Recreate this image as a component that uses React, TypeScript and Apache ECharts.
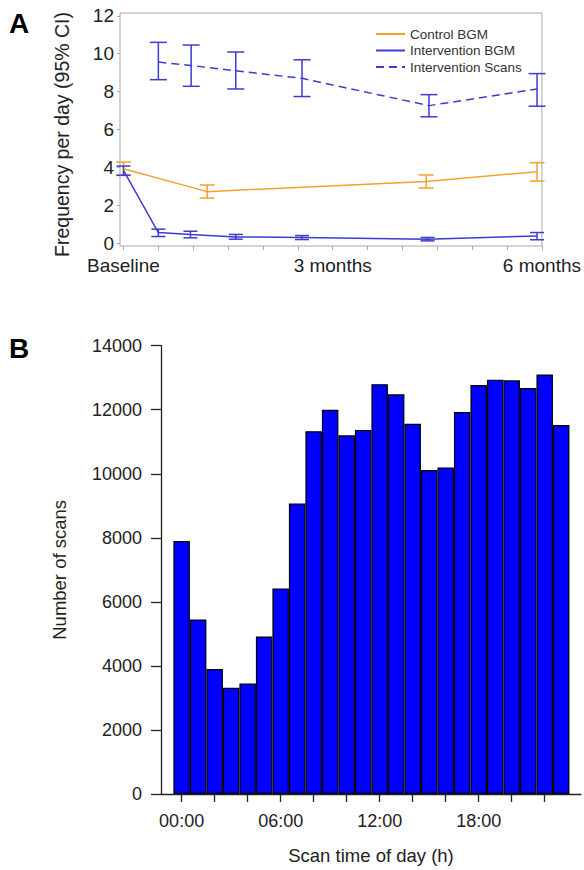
import React, { useEffect, useRef } from "react";
import * as echarts from "echarts";

// ---------- Panel A data (months from baseline) ----------
const controlX = [0, 1.2, 4.34, 5.93];
const controlMean = [3.93, 2.72, 3.26, 3.77];
const controlLow = [3.6, 2.38, 2.91, 3.28];
const controlHigh = [4.28, 3.07, 3.6, 4.25];

const interventionX = [0, 0.5, 0.96, 1.61, 2.56, 4.36, 5.93];
const interventionMean = [3.84, 0.56, 0.46, 0.33, 0.3, 0.21, 0.38];
const interventionLow = [3.58, 0.35, 0.28, 0.21, 0.19, 0.12, 0.18];
const interventionHigh = [4.07, 0.74, 0.63, 0.46, 0.4, 0.3, 0.56];

const scansX = [0.5, 0.97, 1.61, 2.56, 4.38, 5.93];
const scansMean = [9.56, 9.38, 9.1, 8.7, 7.26, 8.14];
const scansLow = [8.63, 8.28, 8.14, 7.74, 6.67, 7.23];
const scansHigh = [10.6, 10.46, 10.09, 9.68, 7.84, 8.95];

const panelATicks = [0, 0.5, 1, 1.5, 2, 2.5, 3, 3.5, 4, 4.5, 5, 5.5, 6];
const panelALabelValues = [0, 3, 6];
const panelALabelTexts = ["Baseline", "3 months", "6 months"];
const panelAYTicks = [0, 2, 4, 6, 8, 10, 12];

// ---------- Panel B data ----------
const hours = [0, 1, 2, 3, 4, 5, 6, 7, 8, 9, 10, 11, 12, 13, 14, 15, 16, 17, 18, 19, 20, 21, 22, 23];
const scanCounts = [
  7900, 5450, 3900, 3320, 3450, 4920, 6420, 9070, 11330, 12000, 11200, 11370,
  12800, 12480, 11560, 10120, 10200, 11930, 12770, 12940, 12920, 12680, 13100, 11520,
];
const hourTicks = [0, 2, 4, 6, 8, 10, 12, 14, 16, 18, 20, 22];
const hourLabels = [0, 6, 12, 18];

const ORANGE = "#f2a22c";
const BLUE = "#3c3cd2";
const FONT = "Liberation Sans, Arial, sans-serif";
const TEXT = "#222";

function zip3(x: number[], a: number[], b: number[]) {
  return x.map((v, i) => [v, a[i], b[i]]);
}
function zip2(x: number[], a: number[]) {
  return x.map((v, i) => [v, a[i]]);
}

function errorBars(name: string, data: number[][], color: string, cap: number) {
  return {
    type: "custom",
    name,
    xAxisIndex: 0,
    yAxisIndex: 0,
    data,
    encode: { x: 0, y: [1, 2] },
    z: 3,
    renderItem: (params: any, api: any) => {
      const x = api.value(0);
      const lo = api.coord([x, api.value(1)]);
      const hi = api.coord([x, api.value(2)]);
      const style = { stroke: color, lineWidth: 1.5 };
      const h = cap / 2;
      return {
        type: "group",
        children: [
          { type: "line", shape: { x1: lo[0], y1: lo[1], x2: hi[0], y2: hi[1] }, style },
          { type: "line", shape: { x1: hi[0] - h, y1: hi[1], x2: hi[0] + h, y2: hi[1] }, style },
          { type: "line", shape: { x1: lo[0] - h, y1: lo[1], x2: lo[0] + h, y2: lo[1] }, style },
        ],
      };
    },
  };
}

export default function App() {
  const ref = useRef<HTMLDivElement>(null);
  useEffect(() => {
    if (!ref.current) return;
    const chart = echarts.init(ref.current, undefined, { renderer: "svg" });
    const option: any = {
      animation: false,
      backgroundColor: "#fff",
      textStyle: { fontFamily: FONT },
      title: [
        { text: "A", left: 9, top: 9, padding: 0, textStyle: { fontSize: 28, fontWeight: "bold", color: "#000", fontFamily: FONT } },
        { text: "B", left: 9, top: 334, padding: 0, textStyle: { fontSize: 28, fontWeight: "bold", color: "#000", fontFamily: FONT } },
      ],
      legend: {
        data: ["Control BGM", "Intervention BGM", "Intervention Scans"],
        orient: "vertical",
        left: 375,
        top: 27,
        padding: 0,
        itemWidth: 29,
        itemHeight: 14,
        itemGap: 2.5,
        itemStyle: { opacity: 0 },
        textStyle: { fontSize: 13.5, color: "#333", fontFamily: FONT, lineHeight: 14 },
      },
      grid: [
        { left: 120, top: 13, width: 423, height: 233, show: true, borderColor: "#a8a8a8", borderWidth: 1, backgroundColor: "transparent" },
        { left: 161, top: 345.7, width: 420, height: 449.3 },
      ],
      xAxis: [
        {
          type: "value",
          gridIndex: 0,
          min: -0.05,
          max: 6,
          axisLine: { show: false, onZero: false },
          splitLine: { show: false },
          axisTick: { show: true, customValues: panelATicks, length: 4, lineStyle: { color: "#a8a8a8" } },
          axisLabel: {
            customValues: panelALabelValues,
            margin: 10,
            fontSize: 19,
            color: TEXT,
            fontFamily: FONT,
            formatter: (v: number) => panelALabelTexts[panelALabelValues.indexOf(v)] ?? "",
          },
        },
        {
          type: "value",
          gridIndex: 1,
          min: -1.25,
          max: 24.2,
          name: "Scan time of day (h)",
          nameLocation: "middle",
          nameGap: 52,
          nameTextStyle: { fontSize: 18.5, color: TEXT, fontFamily: FONT },
          axisLine: { show: true, onZero: false, lineStyle: { color: "#222", width: 1.3 } },
          splitLine: { show: false },
          axisTick: { show: true, customValues: hourTicks, length: 8, lineStyle: { color: "#222", width: 1.3 } },
          axisLabel: {
            customValues: hourLabels,
            margin: 18,
            fontSize: 18,
            color: TEXT,
            fontFamily: FONT,
            formatter: (v: number) => (v < 10 ? "0" + v : "" + v) + ":00",
          },
        },
      ],
      yAxis: [
        {
          type: "value",
          gridIndex: 0,
          min: -0.15,
          max: 12.15,
          name: "Frequency per day (95% CI)",
          nameLocation: "middle",
          nameGap: 48,
          nameTextStyle: { fontSize: 19.5, color: TEXT, fontFamily: FONT, padding: [0, 10, 0, 0] },
          axisLine: { show: false, onZero: false },
          splitLine: { show: false },
          axisTick: { show: true, customValues: panelAYTicks, length: 3, lineStyle: { color: "#a8a8a8" } },
          axisLabel: { customValues: panelAYTicks, margin: 6, fontSize: 19, color: TEXT, fontFamily: FONT },
        },
        {
          type: "value",
          gridIndex: 1,
          min: 0,
          max: 14000,
          interval: 2000,
          name: "Number of scans",
          nameLocation: "middle",
          nameGap: 92,
          nameTextStyle: { fontSize: 18.5, color: TEXT, fontFamily: FONT },
          axisLine: { show: true, onZero: false, lineStyle: { color: "#222", width: 1.3 } },
          splitLine: { show: false },
          axisTick: { show: true, length: 10, lineStyle: { color: "#222", width: 1.3 } },
          axisLabel: { margin: 19, fontSize: 18, color: TEXT, fontFamily: FONT, formatter: (v: number) => String(v) },
        },
      ],
      series: [
        {
          type: "line",
          name: "Control BGM",
          xAxisIndex: 0,
          yAxisIndex: 0,
          data: zip2(controlX, controlMean),
          symbol: "none",
          lineStyle: { color: ORANGE, width: 1.5 },
          itemStyle: { color: ORANGE },
          z: 4,
        },
        {
          type: "line",
          name: "Intervention BGM",
          xAxisIndex: 0,
          yAxisIndex: 0,
          data: zip2(interventionX, interventionMean),
          symbol: "none",
          lineStyle: { color: BLUE, width: 1.5 },
          itemStyle: { color: BLUE },
          z: 4,
        },
        {
          type: "line",
          name: "Intervention Scans",
          xAxisIndex: 0,
          yAxisIndex: 0,
          data: zip2(scansX, scansMean),
          symbol: "none",
          lineStyle: { color: BLUE, width: 1.5, type: [8, 5] },
          itemStyle: { color: BLUE },
          z: 4,
        },
        errorBars("Control BGM CI", zip3(controlX, controlLow, controlHigh), ORANGE, 15),
        errorBars("Intervention BGM CI", zip3(interventionX, interventionLow, interventionHigh), BLUE, 14),
        errorBars("Intervention Scans CI", zip3(scansX, scansLow, scansHigh), BLUE, 17),
        {
          type: "bar",
          name: "Scans",
          xAxisIndex: 1,
          yAxisIndex: 1,
          data: zip2(hours, scanCounts),
          barWidth: 16.5,
          itemStyle: { color: "#0000ff", borderColor: "#000", borderWidth: 1.2 },
        },
      ],
    };
    chart.setOption(option);
    return () => chart.dispose();
  }, []);
  return (
    <div
      ref={ref}
      style={{ position: "fixed", left: 0, top: 0, width: 584, height: 870, background: "#fff" }}
    />
  );
}
